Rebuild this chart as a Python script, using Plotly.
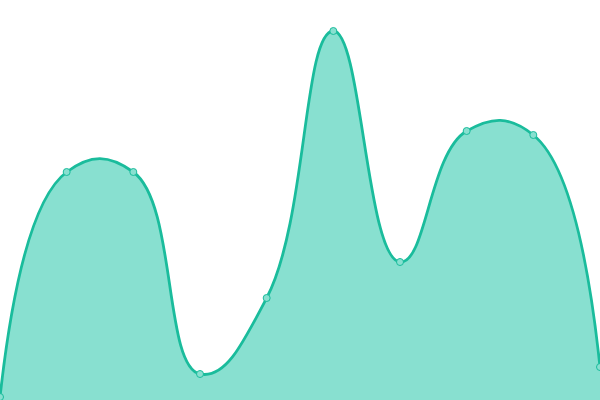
import plotly.graph_objects as go

x_vals = [0, 1, 2, 3, 4, 5, 6, 7, 8, 9]
y_vals = [3, 228, 228, 26, 102, 369, 138, 269, 265, 33]

fig = go.Figure()
fig.add_trace(go.Scatter(
    x=x_vals, y=y_vals,
    mode="lines+markers",
    line=dict(shape="spline", smoothing=1.3, color="#1abc9c", width=2.8),
    marker=dict(size=7, color="#88e0d0", line=dict(color="#1abc9c", width=1)),
    fill="tozeroy",
    fillcolor="#88e0d0",
    cliponaxis=False,
    hoverinfo="skip",
))
fig.update_layout(
    width=600, height=400,
    margin=dict(l=0, r=0, t=0, b=0),
    paper_bgcolor="white", plot_bgcolor="white",
    showlegend=False,
    xaxis=dict(range=[0, 9], visible=False, fixedrange=True),
    yaxis=dict(range=[0, 400], visible=False, fixedrange=True),
)
fig.write_html(
    "out.html",
    config={"displayModeBar": False},
    post_script="document.body.style.margin='0';document.body.style.overflow='hidden';",
)
